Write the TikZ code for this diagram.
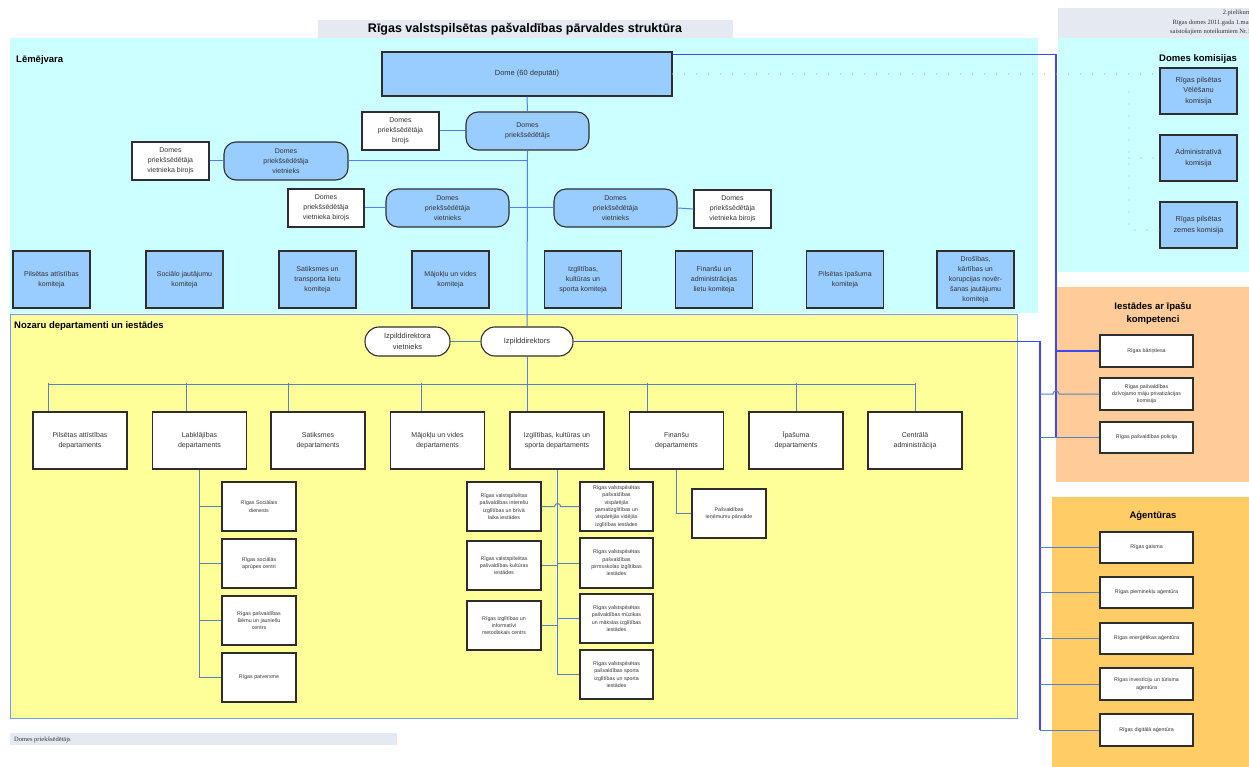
\documentclass[tikz,border=0pt]{standalone}
\usepackage{fontspec}
\setmainfont{Liberation Sans}
\newfontfamily\serifft{Liberation Serif}
\usetikzlibrary{calc}
\definecolor{cyanbg}{HTML}{CCFFFF}
\definecolor{yellowbg}{HTML}{FFFF99}
\definecolor{orangebg}{HTML}{FFCC99}
\definecolor{agbg}{HTML}{FFCC66}
\definecolor{graybar}{HTML}{E4E9F2}
\definecolor{boxblue}{HTML}{99CCFF}
\definecolor{boxline}{HTML}{2E2E2E}
\definecolor{txt}{HTML}{333333}
\definecolor{spineblue}{HTML}{4F7FF5}
\definecolor{strongblue}{HTML}{4646F0}
\definecolor{linkblue}{HTML}{5A80C0}
\definecolor{dotgray}{HTML}{8FA6BF}
\definecolor{panelborder}{HTML}{7A9CF0}
\begin{document}
\begin{tikzpicture}[x=1pt,y=-1pt,
 sz/.style 2 args={minimum width=#1pt,minimum height=#2pt},
 basebox/.style={draw=boxline,line width=1.1pt,align=center,inner sep=1pt,text=txt,font=\fontsize{7}{10}\selectfont},
 bluebox/.style={basebox,fill=boxblue},
 whitebox/.style={basebox,fill=white},
 roundbox/.style={bluebox,rounded corners=12pt,sz={123}{38}},
 birojs/.style={whitebox,sz={77}{38}},
 pillbox/.style={whitebox,rounded corners=14pt,font=\fontsize{7.5}{10.5}\selectfont},
 tinyfont/.style={font=\fontsize{5.3}{7.3}\selectfont},
 dept/.style={whitebox,sz={94}{57},font=\fontsize{7}{9.5}\selectfont},
 kom/.style={bluebox,sz={77}{57}},
 komis/.style={bluebox,sz={77}{46},font=\fontsize{7.3}{10.5}\selectfont},
 subbox/.style={whitebox,tinyfont,sz={74}{49}},
 rbox/.style={whitebox,tinyfont,sz={93}{32}},
 paneltitle/.style={font=\bfseries\fontsize{9.5}{12}\selectfont,text=black,inner sep=0pt,align=center},
 spine/.style={draw=spineblue,line width=1pt},
 strong/.style={draw=strongblue,line width=1.1pt},
 link/.style={draw=linkblue,line width=1pt},
 dots/.style={draw=dotgray,line width=1.3pt,line cap=round,dash pattern=on 0pt off 12pt}
]
\useasboundingbox (0,0) rectangle (1249,767);
\fill[white] (0,0) rectangle (1249,767);
% panels
\fill[cyanbg] (10,38) rectangle (1038,313);
\fill[cyanbg] (1058,38) rectangle (1249,272);
\filldraw[fill=yellowbg,draw=panelborder,line width=0.8pt] (10,314) rectangle (1017,718);
\fill[orangebg] (1056,287) rectangle (1249,482);
\fill[agbg] (1052,497) rectangle (1249,767);
\fill[graybar] (318,20) rectangle (733,38);
\fill[graybar] (1058,8) rectangle (1249,38);
\fill[graybar] (10,733) rectangle (397,745);
% titles
\node[font=\bfseries\fontsize{12.5}{14}\selectfont,text=black,inner sep=0pt] (title) at (525,29) {Rīgas valstspilsētas pašvaldības pārvaldes struktūra};
\begin{scope}
\clip (1058,8) rectangle (1249,38);
\node[anchor=north east,align=right,inner sep=0pt,font=\serifft\fontsize{6.5}{9.3}\selectfont,text=txt] (note) at (1251,10) {2.pielikum\\Rīgas domes 2011.gada 1.mar\\saistošajiem noteikumiem Nr.1};
\end{scope}
\node[anchor=west,inner sep=0pt,font=\serifft\fontsize{6.5}{8}\selectfont,text=txt] (footer) at (14,740) {Domes priekšsēdētājs};
\node[paneltitle,anchor=west] (tlem) at (16,60) {Lēmējvara};
\node[paneltitle] (tkom) at (1198,59) {Domes komisijas};
\node[paneltitle,anchor=west] (tnoz) at (14,326) {Nozaru departamenti un iestādes};
\node[paneltitle,font=\bfseries\fontsize{9.5}{13}\selectfont] (tiest) at (1153,313) {Iestādes ar īpašu\\kompetenci};
\node[paneltitle] (tag) at (1153,516) {Aģentūras};

% Lēmējvara
\node[bluebox,sz={290}{44},font=\fontsize{7.5}{10}\selectfont] (dome) at (527,74) {Dome (60 deputāti)};
\node[roundbox] (pres) at (527.5,131) {Domes\\priekšsēdētājs};
\node[birojs] (presb) at (400.5,131) {Domes\\priekšsēdētāja\\birojs};
\node[roundbox,sz={124}{38}] (vl) at (286,161) {Domes\\priekšsēdētāja\\vietnieks};
\node[birojs] (vlb) at (170.5,161) {Domes\\priekšsēdētāja\\vietnieka birojs};
\node[roundbox] (vm) at (447.5,208) {Domes\\priekšsēdētāja\\vietnieks};
\node[birojs,sz={76}{38}] (vmb) at (326,208) {Domes\\priekšsēdētāja\\vietnieka birojs};
\node[roundbox] (vr) at (615.5,208) {Domes\\priekšsēdētāja\\vietnieks};
\node[birojs] (vrb) at (732.5,209) {Domes\\priekšsēdētāja\\vietnieka birojs};

\node[kom] (k1) at (51.5,279.5) {Pilsētas attīstības\\komiteja};
\node[kom] (k2) at (184.5,279.5) {Sociālo jautājumu\\komiteja};
\node[kom] (k3) at (317.5,279.5) {Satiksmes un\\transporta lietu\\komiteja};
\node[kom] (k4) at (450.5,279.5) {Mājokļu un vides\\komiteja};
\node[kom] (k5) at (583,279.5) {Izglītības,\\kultūras un\\sporta komiteja};
\node[kom] (k6) at (714,279.5) {Finanšu un\\administrācijas\\lietu komiteja};
\node[kom] (k7) at (845,279.5) {Pilsētas īpašuma\\komiteja};
\node[kom] (k8) at (975.5,279.5) {Drošības,\\kārtības un\\korupcijas novēr-\\šanas jautājumu\\komiteja};

% Domes komisijas
\node[komis] (c1) at (1198.5,91) {Rīgas pilsētas\\Vēlēšanu\\komisija};
\node[komis] (c2) at (1198.5,158) {Administratīvā\\komisija};
\node[komis] (c3) at (1198.5,225) {Rīgas pilsētas\\zemes komisija};

% Izpilddirektors
\node[pillbox,sz={92}{29}] (izd) at (527,341.5) {Izpilddirektors};
\node[pillbox,sz={85}{29}] (izdv) at (407.5,341.5) {Izpilddirektora\\vietnieks};

\node[dept] (d1) at (80,440.5) {Pilsētas attīstības\\departaments};
\node[dept] (d2) at (199.5,440.5) {Labklājības\\departaments};
\node[dept] (d3) at (318,440.5) {Satiksmes\\departaments};
\node[dept] (d4) at (437.5,440.5) {Mājokļu un vides\\departaments};
\node[dept] (d5) at (557,440.5) {Izglītības, kultūras un\\sporta departaments};
\node[dept] (d6) at (676.5,440.5) {Finanšu\\departaments};
\node[dept] (d7) at (796,440.5) {Īpašuma\\departaments};
\node[dept] (d8) at (915,440.5) {Centrālā\\administrācija};

\node[subbox] (lb1) at (259,506.5) {Rīgas Sociālais\\dienests};
\node[subbox] (lb2) at (259,563.5) {Rīgas sociālās\\aprūpes centri};
\node[subbox] (lb3) at (259,620.5) {Rīgas pašvaldības\\Bērnu un jauniešu\\centrs};
\node[subbox] (lb4) at (259,677.5) {Rīgas patversme};

\node[subbox] (il1) at (504,506.5) {Rīgas valstspilsētas\\pašvaldības interešu\\izglītības un brīvā\\laika iestādes};
\node[subbox] (il2) at (504,565.5) {Rīgas valstspilsētas\\pašvaldības kultūras\\iestādes};
\node[subbox] (il3) at (504,625.5) {Rīgas izglītības un\\informatīvi\\metodiskais centrs};
\node[subbox,sz={73}{49}] (ir1) at (616.5,506.5) {Rīgas valstspilsētas\\pašvaldības\\vispārējās\\pamatizglītības un\\vispārējās vidējās\\izglītības iestādes};
\node[subbox,sz={73}{50}] (ir2) at (616.5,563) {Rīgas valstspilsētas\\pašvaldības\\pirmsskolas izglītības\\iestādes};
\node[subbox,sz={73}{49}] (ir3) at (616.5,618.5) {Rīgas valstspilsētas\\pašvaldības mūzikas\\un mākslas izglītības\\iestādes};
\node[subbox,sz={73}{49}] (ir4) at (616.5,674.5) {Rīgas valstspilsētas\\pašvaldības sporta\\izglītības un sporta\\iestādes};
\node[subbox] (fin) at (729,513.5) {Pašvaldības\\ieņēmumu pārvalde};

% Iestādes ar īpašu kompetenci
\node[rbox] (ie1) at (1146.5,351) {Rīgas bāriņtiesa};
\node[rbox] (ie2) at (1146.5,394) {Rīgas pašvaldības\\dzīvojamo māju privatizācijas\\komisija};
\node[rbox,sz={93}{31}] (ie3) at (1146.5,437.5) {Rīgas pašvaldības policija};

% Aģentūras
\node[rbox,sz={93}{31}] (ag1) at (1146.5,547.5) {Rīgas gaisma};
\node[rbox,sz={93}{31}] (ag2) at (1146.5,592.5) {Rīgas pieminekļu aģentūra};
\node[rbox,sz={93}{31}] (ag3) at (1146.5,638.5) {Rīgas enerģētikas aģentūra};
\node[rbox] (ag4) at (1146.5,684) {Rīgas investīciju un tūrisma\\aģentūra};
\node[rbox] (ag5) at (1146.5,730) {Rīgas digitālā aģentūra};

\coordinate (izbus) at (1040,341.5);
\coordinate (bus) at (0,384);

% connectors: Lēmējvara
\draw[spine] (dome.south) -- (pres.north);
\draw[spine] (pres.south) -- (izd.north);
\draw[spine] (izd.south) -- (izd.south |- d5.north);
\draw[spine] (presb.east) -- (pres.west);
\draw[spine] (vl.east) -- (vl.east -| pres.south);
\draw[spine] (vlb.east) -- (vl.west);
\draw[spine] (vm.east) -- (vm.east -| pres.south);
\draw[spine] (vmb.east) -- (vm.west);
\draw[spine] (vr.west) -- (vr.west -| pres.south);
\draw[spine] (vr.east) -- (vrb.west);

% Dome to right side
\draw[strong] ($(dome.north east)+(0,3)$) -| (1056,437.5);
\draw[strong] (ie1.west -| 1056,0) -- (ie1.west);
% dotted komisijas
\draw[dots] (dome.east) -- (dome.east -| c1.west);
\draw[dots] (1129,92) -- (1129,230) -- (c3.west |- 0,230);
\draw[dots] (1129,158) -- (c2.west);

% Izpilddirektors
\draw[link] (izdv.east) -- (izd.west);
\draw[strong] (izd.east) -- (izbus) -- (ag5.west -| izbus);
\draw[link] (ie2.west -| izbus) -- ++(13,0) arc[start angle=180,end angle=360,radius=3] -- (ie2.west);
\draw[link] (ie3.west -| izbus) -- (ie3.west);
\foreach \a in {ag1,ag2,ag3,ag4,ag5}{
  \draw[link] (\a.west -| izbus) -- (\a.west);
}

% department bus
\draw[link] (48,384) -- (915,384);
\draw[link] ([xshift=-32pt]d1.north) -- ++(0,-28);
\draw[link] ([xshift=-13.5pt]d2.north) -- ++(0,-28);
\draw[link] ([xshift=-30pt]d3.north) -- ++(0,-28);
\draw[link] ([xshift=-16.5pt]d4.north) -- ++(0,-28);
\draw[link] ([xshift=-29.5pt]d6.north) -- ++(0,-28);
\draw[link] (d7.north) -- ++(0,-28);
\draw[link] (d8.north) -- ++(0,-28);

% Labklājības
\draw[link] (d2.south) -- (d2.south |- lb4.west);
\foreach \b in {lb1,lb2,lb3,lb4}{
  \draw[link] (d2.south |- \b.west) -- (\b.west);
}
% Izglītības
\draw[spine] (d5.south) -- (d5.south |- ir4.west);
\draw[link] (il1.east) -- ++(13,0) arc[start angle=180,end angle=360,radius=3] -- (ir1.west);
\draw[link] (il2.east) -- (il2.east -| d5.south);
\draw[link] (il3.east) -- (il3.east -| d5.south);
\draw[link] (d5.south |- ir2.west) -- (ir2.west);
\draw[spine] (d5.south |- ir3.west) -- (ir3.west);
\draw[link] (d5.south |- ir4.west) -- (ir4.west);
% Finanšu
\draw[link] (d6.south) -- (d6.south |- fin.west) -- (fin.west);
\end{tikzpicture}
\end{document}
